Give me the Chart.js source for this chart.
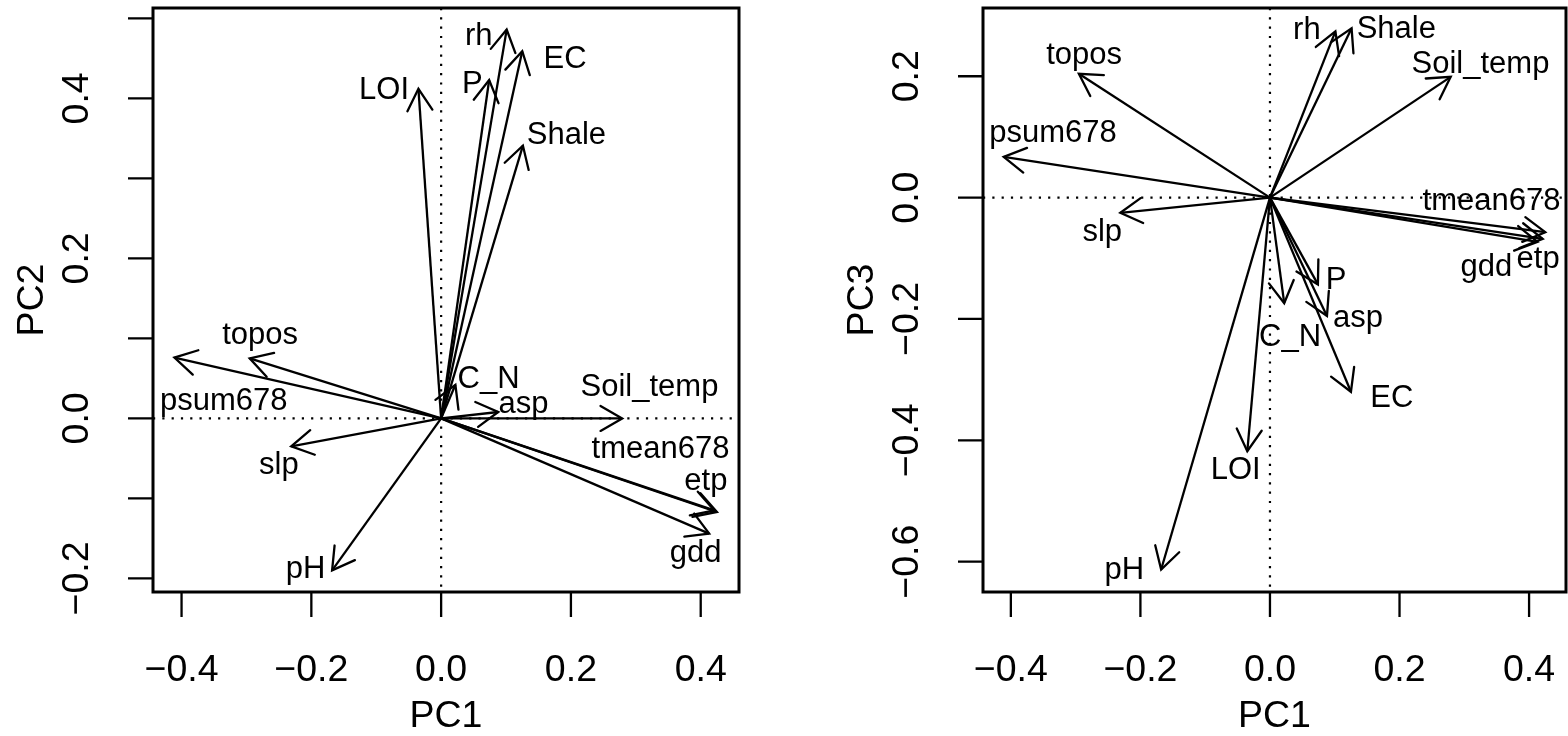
<!DOCTYPE html>
<html>
<head>
<meta charset="utf-8">
<script src="https://cdn.jsdelivr.net/npm/chart.js@4.4.1/dist/chart.umd.min.js"></script>
<style>
html,body{margin:0;padding:0;background:#fff;}
#wrap{position:relative;width:1568px;height:736px;}
.pane{position:absolute;top:0;width:784px;height:736px;}
</style>
</head>
<body>
<div id="wrap">
  <div class="pane" style="left:0"><canvas id="pc12" width="784" height="736"></canvas></div>
  <div class="pane" style="left:784px"><canvas id="pc13" width="784" height="736"></canvas></div>
</div>
<script>
// loadings
const varNames = ['rh','EC','P','LOI','Shale','topos','psum678','C_N','asp','Soil_temp','slp','pH','tmean678','etp','gdd'];
const pc1 = [0.101, 0.125, 0.074, -0.035, 0.126, -0.295, -0.411, 0.022, 0.088, 0.279, -0.231, -0.168, 0.425, 0.421, 0.413];
const pc2 = [0.486, 0.459, 0.423, 0.412, 0.341, 0.075, 0.076, 0.042, 0.008, 0.000, -0.035, -0.190, -0.117, -0.115, -0.144];
const pc3 = [0.274, -0.320, -0.143, -0.418, 0.279, 0.204, 0.067, -0.174, -0.195, 0.199, -0.025, -0.613, -0.057, -0.068, -0.073];

// where each name is written (text() coordinates, same units as the loadings)
const lab12x = [0.058, 0.191, 0.048, -0.088, 0.193, -0.279, -0.335, 0.073, 0.127, 0.321, -0.250, -0.209, 0.338, 0.408, 0.392];
const lab12y = [0.481, 0.452, 0.421, 0.413, 0.357, 0.107, 0.025, 0.052, 0.021, 0.0425, -0.056, -0.186, -0.036, -0.075, -0.165];
const lab13x = [0.057, 0.188, 0.102, -0.053, 0.195, -0.287, -0.335, 0.031, 0.136, 0.325, -0.259, -0.225, 0.342, 0.414, 0.334];
const lab13y = [0.279, -0.327, -0.132, -0.445, 0.282, 0.238, 0.110, -0.226, -0.195, 0.224, -0.053, -0.611, -0.002, -0.098, -0.111];

const xTicks = [-0.4, -0.2, 0, 0.2, 0.4];
const xTickLabels = ['\u22120.4', '\u22120.2', '0.0', '0.2', '0.4'];
const y2Ticks = [-0.2, -0.1, 0, 0.1, 0.2, 0.3, 0.4, 0.5];
const y2TickLabels = ['\u22120.2', '', '0.0', '', '0.2', '', '0.4', ''];
const y3Ticks = [-0.6, -0.4, -0.2, 0, 0.2];
const y3TickLabels = ['\u22120.6', '\u22120.4', '\u22120.2', '0.0', '0.2'];

const FONT = '"Liberation Sans", Arial, Helvetica, sans-serif';

const rBiplot = {
    id: 'rBiplot',
    beforeDatasetsDraw(chart, args, o) {
        // dotted lines through the origin
        const ctx = chart.ctx, a = chart.chartArea;
        const x0 = chart.scales.x.getPixelForValue(0), y0 = chart.scales.y.getPixelForValue(0);
        ctx.save();
        ctx.strokeStyle = '#000';
        ctx.lineWidth = 2.2;
        ctx.setLineDash([2.2, 7.1]);
        ctx.beginPath();
        ctx.moveTo(a.left, y0); ctx.lineTo(a.right, y0);
        ctx.moveTo(x0, a.top); ctx.lineTo(x0, a.bottom);
        ctx.stroke();
        ctx.restore();
    },
    afterDatasetsDraw(chart, args, o) {
        const ctx = chart.ctx, sx = chart.scales.x, sy = chart.scales.y;
        const ox = sx.getPixelForValue(0), oy = sy.getPixelForValue(0);
        ctx.save();
        ctx.strokeStyle = '#000';
        ctx.lineWidth = 2.3;
        ctx.lineCap = 'round';
        // arrow heads
        chart.data.datasets.forEach(ds => {
            const p = ds.data[1];
            const px = sx.getPixelForValue(p.x), py = sy.getPixelForValue(p.y);
            const ang = Math.atan2(py - oy, px - ox);
            const len = 25, spread = Math.PI / 6;
            ctx.beginPath();
            ctx.moveTo(px - len * Math.cos(ang - spread), py - len * Math.sin(ang - spread));
            ctx.lineTo(px, py);
            ctx.lineTo(px - len * Math.cos(ang + spread), py - len * Math.sin(ang + spread));
            ctx.stroke();
        });
        // variable names
        ctx.fillStyle = '#000';
        ctx.font = '31px ' + FONT;
        ctx.textAlign = 'center';
        ctx.textBaseline = 'alphabetic';
        o.names.forEach((n, i) => {
            ctx.fillText(n, sx.getPixelForValue(o.labX[i]), sy.getPixelForValue(o.labY[i]) + 31 * 0.36);
        });
        ctx.restore();
    },
    afterDraw(chart, args, o) {
        const ctx = chart.ctx, a = chart.chartArea, sx = chart.scales.x, sy = chart.scales.y;
        ctx.save();
        ctx.strokeStyle = '#000';
        ctx.fillStyle = '#000';
        // box
        ctx.lineWidth = 3;
        ctx.strokeRect(a.left, a.top, a.right - a.left, a.bottom - a.top);
        // ticks
        ctx.lineWidth = 2.3;
        ctx.beginPath();
        o.xTicks.forEach(v => {
            const x = sx.getPixelForValue(v);
            ctx.moveTo(x, a.bottom); ctx.lineTo(x, a.bottom + 25);
        });
        o.yTicks.forEach(v => {
            const y = sy.getPixelForValue(v);
            ctx.moveTo(a.left, y); ctx.lineTo(a.left - 25, y);
        });
        ctx.stroke();
        // tick labels and titles
        const fs = 37.5;
        ctx.font = fs + 'px ' + FONT;
        ctx.textAlign = 'center';
        ctx.textBaseline = 'alphabetic';
        o.xTicks.forEach((v, i) => {
            ctx.fillText(o.xTickLabels[i], sx.getPixelForValue(v), a.bottom + 76 + fs * 0.355);
        });
        ctx.fillText(o.xTitle, (a.left + a.right) / 2, a.bottom + 121 + fs * 0.36);
        o.yTicks.forEach((v, i) => {
            if (!o.yTickLabels[i]) return;
            ctx.save();
            ctx.translate(a.left - 78, sy.getPixelForValue(v));
            ctx.rotate(-Math.PI / 2);
            ctx.fillText(o.yTickLabels[i], 0, fs * 0.355);
            ctx.restore();
        });
        ctx.save();
        ctx.translate(a.left - 124, (a.top + a.bottom) / 2);
        ctx.rotate(-Math.PI / 2);
        ctx.fillText(o.yTitle, 0, fs * 0.36);
        ctx.restore();
        ctx.restore();
    }
};

function biplot(id, xs, ys, labX, labY, xRange, yRange, yTicks, yTickLabels, yTitle, pad) {
    const datasets = varNames.map((n, i) => ({
        label: n,
        data: [{x: 0, y: 0}, {x: xs[i], y: ys[i]}],
        showLine: true,
        borderColor: '#000',
        borderWidth: 2.3,
        pointRadius: 0,
        fill: false
    }));
    new Chart(document.getElementById(id).getContext('2d'), {
        type: 'scatter',
        data: {datasets: datasets},
        options: {
            responsive: false,
            animation: false,
            layout: {padding: pad},
            scales: {
                x: {type: 'linear', display: false, min: xRange[0], max: xRange[1]},
                y: {type: 'linear', display: false, min: yRange[0], max: yRange[1]}
            },
            plugins: {
                legend: {display: false},
                tooltip: {enabled: false},
                rBiplot: {
                    names: varNames, labX: labX, labY: labY,
                    xTicks: xTicks, xTickLabels: xTickLabels, xTitle: 'PC1',
                    yTicks: yTicks, yTickLabels: yTickLabels, yTitle: yTitle
                }
            }
        },
        plugins: [rBiplot]
    });
}

biplot('pc12', pc1, pc2, lab12x, lab12y, [-0.444, 0.459], [-0.217, 0.513], y2Ticks, y2TickLabels, 'PC2',
    {left: 153, right: 45, top: 8, bottom: 144});
biplot('pc13', pc1, pc3, lab13x, lab13y, [-0.443, 0.457], [-0.650, 0.3125], y3Ticks, y3TickLabels, 'PC3',
    {left: 199, right: 2, top: 8, bottom: 144});
</script>
</body>
</html>
